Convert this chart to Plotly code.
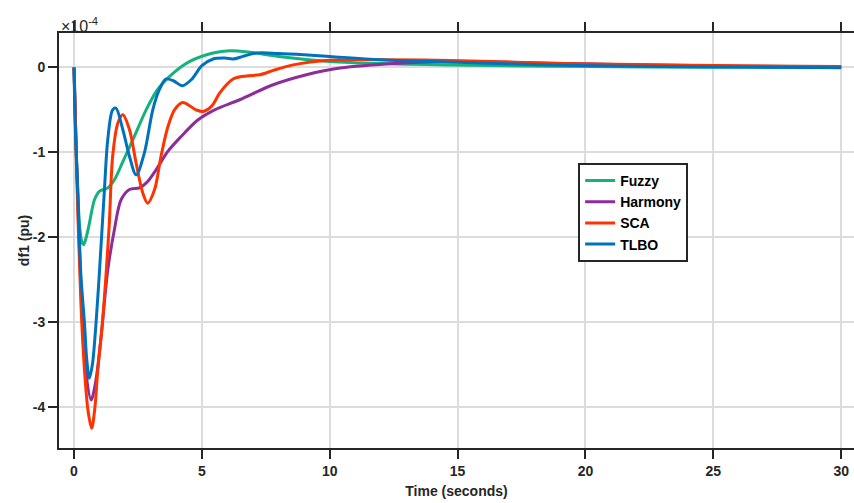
import plotly.graph_objects as go

# values in units of 1e-4 pu
fuzzy_t = [0, 0.04, 0.08, 0.15, 0.21, 0.3, 0.38, 0.48, 0.6, 0.8, 0.99, 1.32, 1.58, 1.91, 2.36, 2.82, 3.27,
           3.87, 4.53, 5.44, 6.09, 6.87, 8, 10, 12, 14.7, 20, 25, 30]
fuzzy_y = [0, -0.4, -0.93, -1.45, -1.84, -2.05, -2.09, -2.0, -1.84, -1.56, -1.46, -1.42, -1.325, -1.11, -0.814,
           -0.50, -0.26, -0.07, 0.071, 0.17, 0.197, 0.18, 0.13, 0.071, 0.045, 0.03, 0.01, 0.003, 0]

harmony_t = [0, 0.1, 0.27, 0.45, 0.67, 0.85, 1.06, 1.32, 1.58, 1.84, 2.17, 2.56, 2.88, 3.21, 3.67, 4.19, 4.84,
             5.5, 6.48, 7.79, 9.09, 10.4, 12.7, 14.7, 18.6, 22, 26, 30]
harmony_y = [0, -1.1, -2.6, -3.55, -3.92, -3.7, -3.17, -2.39, -1.91, -1.56, -1.44, -1.42, -1.345, -1.207, -0.99,
             -0.814, -0.62, -0.50, -0.381, -0.204, -0.086, -0.007, 0.05, 0.07, 0.05, 0.03, 0.015, 0.005]

sca_t = [0, 0.1, 0.27, 0.41, 0.55, 0.69, 0.82, 0.93, 1.1, 1.25, 1.38, 1.51, 1.71, 1.91, 2.17, 2.43, 2.69, 2.88,
         3.15, 3.40, 3.67, 3.93, 4.25, 4.77, 5.05, 5.4, 5.7, 6.22, 6.74, 7.27, 7.79, 8.57, 10, 12, 14.7, 18.6, 22,
         26, 30]
sca_y = [0, -1.2, -2.78, -3.57, -4.05, -4.255, -4.0, -3.57, -3.05, -2.45, -1.84, -1.05, -0.66, -0.558, -0.735,
         -1.13, -1.48, -1.60, -1.44, -1.05, -0.70, -0.50, -0.413, -0.50, -0.519, -0.45, -0.30, -0.137, -0.10,
         -0.086, -0.035, 0.03, 0.085, 0.09, 0.083, 0.05, 0.035, 0.02, 0.012]

tlbo_t = [0, 0.05, 0.15, 0.27, 0.41, 0.5, 0.60, 0.72, 0.86, 0.99, 1.19, 1.32, 1.51, 1.64, 1.91, 2.17, 2.43,
          2.75, 3.08, 3.34, 3.59, 3.9, 4.24, 4.6, 5.0, 5.44, 5.9, 6.22, 6.6, 7.13, 8, 9, 10, 12, 15, 18.6, 22,
          26, 30]
tlbo_y = [0, -0.7, -1.5, -2.45, -3.02, -3.45, -3.665, -3.5, -3.02, -2.43, -1.44, -0.85, -0.50, -0.48, -0.735,
          -1.05, -1.266, -1.01, -0.50, -0.26, -0.137, -0.16, -0.216, -0.14, 0.02, 0.099, 0.11, 0.099, 0.13,
          0.17, 0.165, 0.15, 0.13, 0.09, 0.06, 0.03, 0.015, 0.005, -0.005]

x_ticks = [0, 5, 10, 15, 20, 25, 30]
y_ticks = [0, -1, -2, -3, -4]

series = [
    ("Fuzzy", fuzzy_t, fuzzy_y, "#14B37D"),
    ("Harmony", harmony_t, harmony_y, "#8C2D99"),
    ("SCA", sca_t, sca_y, "#FF3300"),
    ("TLBO", tlbo_t, tlbo_y, "#0072BD"),
]

FONT = "Liberation Sans, Arial, sans-serif"

fig = go.Figure()
for name, t, y, c in series:
    fig.add_trace(go.Scatter(x=t, y=y, name=name, mode="lines",
                             line=dict(color=c, width=3, shape="spline", smoothing=0.9)))

axis_common = dict(
    showline=True, linecolor="#262626", linewidth=2,
    ticks="outside", ticklen=9, tickwidth=2, tickcolor="#262626",
    showgrid=True, gridcolor="#DCDCDC", gridwidth=2, zeroline=False,
    automargin=False,
    tickfont=dict(family=FONT, size=14, color="#262626", weight="bold"),
)

fig.update_xaxes(range=[-0.587, 30.5], tickvals=x_ticks, mirror="ticks",
                 title=dict(text="Time (seconds)", standoff=8,
                            font=dict(family=FONT, size=14, color="#262626", weight="bold")),
                 **axis_common)
fig.update_yaxes(range=[-4.487, 0.406], tickvals=y_ticks, ticktext=[str(v) for v in y_ticks],
                 title=dict(text="df1 (pu)", standoff=0,
                            font=dict(family=FONT, size=14, color="#262626", weight="bold")),
                 **axis_common)

fig.add_annotation(xref="paper", yref="paper", x=0.0, y=1.0, xanchor="left", yanchor="bottom",
                   text="×10<sup>-4</sup>", showarrow=False, yshift=-4,
                   font=dict(family=FONT, size=16, color="#262626"))

fig.update_layout(
    width=854, height=503,
    margin=dict(l=59, r=0, t=33, b=55, autoexpand=False),
    paper_bgcolor="white", plot_bgcolor="white",
    font=dict(family=FONT, color="#262626"),
    legend=dict(x=0.653, y=0.687, xanchor="left", yanchor="top",
                bgcolor="white", bordercolor="#262626", borderwidth=2,
                font=dict(family=FONT, size=14, color="#000000", weight="bold"),
                tracegroupgap=0, itemwidth=30),
    showlegend=True,
)

fig.write_html("out.html", config={"displayModeBar": False},
               post_script="document.body.style.margin='0';document.body.style.overflow='hidden';")
